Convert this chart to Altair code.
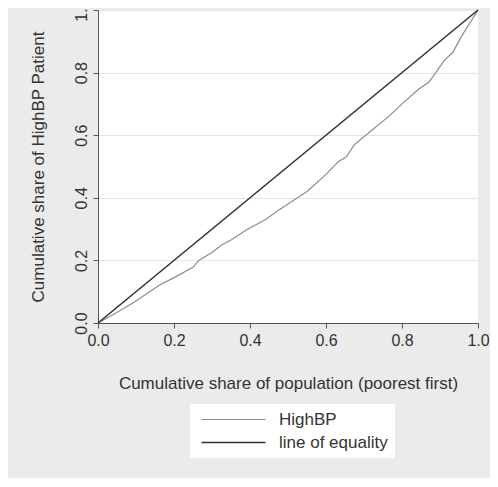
import altair as alt
import pandas as pd

# Cumulative share of population (poorest first) and of HighBP patients
share_pop = [0.0, 0.03, 0.075, 0.1, 0.16, 0.2, 0.25, 0.265, 0.3, 0.325, 0.35, 0.39,
             0.44, 0.475, 0.49, 0.55, 0.6, 0.632, 0.653, 0.675, 0.72, 0.765, 0.8,
             0.842, 0.871, 0.912, 0.934, 0.956, 1.0]
share_highbp = [0.0, 0.02, 0.052, 0.07, 0.12, 0.145, 0.178, 0.2, 0.225, 0.249, 0.265,
                0.297, 0.33, 0.36, 0.372, 0.42, 0.475, 0.515, 0.53, 0.57, 0.615, 0.66,
                0.7, 0.745, 0.77, 0.84, 0.865, 0.915, 1.0]
equality_x = [0.0, 1.0]
equality_y = [0.0, 1.0]
series_names = ["HighBP", "line of equality"]
series_colors = ["#8c8c8c", "#333333"]
tick_values = [0.0, 0.2, 0.4, 0.6, 0.8, 1.0]

rows = []
for xv, yv in zip(share_pop, share_highbp):
    rows.append({"x": xv, "y": yv, "series": series_names[0]})
for xv, yv in zip(equality_x, equality_y):
    rows.append({"x": xv, "y": yv, "series": series_names[1]})
df = pd.DataFrame(rows)

FONT = "Liberation Sans"

chart = alt.Chart(df).mark_line().encode(
    x=alt.X("x:Q",
            scale=alt.Scale(domain=[0, 1], nice=False, zero=False),
            axis=alt.Axis(values=tick_values, format=".1f",
                          title="Cumulative share of population (poorest first)",
                          grid=False, domainColor="#555555", tickColor="#555555",
                          tickSize=5, labelPadding=4, labelFontSize=16,
                          labelFlush=False,
                          labelColor="#333333", titleFontSize=17,
                          titleFontWeight="normal", titleColor="#333333",
                          titlePadding=27, labelFont=FONT, titleFont=FONT)),
    y=alt.Y("y:Q",
            scale=alt.Scale(domain=[0, 1], nice=False, zero=False),
            axis=alt.Axis(values=tick_values, format=".1f",
                          title="Cumulative share of HighBP Patient",
                          grid=True, gridColor="#e4e4e4", gridWidth=1,
                          domainColor="#555555", tickColor="#555555",
                          tickSize=5, labelPadding=4, labelAngle=270,
                          labelAlign="center", labelBaseline="bottom",
                          labelFlush=False,
                          labelFontSize=16, labelColor="#333333",
                          titleFontSize=17, titleFontWeight="normal",
                          titleColor="#333333", titlePadding=26,
                          labelFont=FONT, titleFont=FONT)),
    color=alt.Color("series:N",
                    scale=alt.Scale(domain=series_names, range=series_colors),
                    legend=alt.Legend(title=None, orient="none", legendX=92,
                                      legendY=394, fillColor="white",
                                      padding=7, symbolType="M-1,0H15",
                                      symbolSize=64, symbolStrokeWidth=1.3,
                                      labelFontSize=17, labelFont=FONT,
                                      labelColor="#333333", labelOffset=65,
                                      rowPadding=5)),
    strokeWidth=alt.StrokeWidth("series:N",
                                scale=alt.Scale(domain=series_names, range=[1.2, 1.6]),
                                legend=None),
).properties(
    width=380,
    height=313,
    autosize=alt.AutoSizeParams(type="none"),
    padding={"left": 90, "top": 2, "right": 12, "bottom": 155},
    background="#ebebeb",
).configure_view(
    stroke=None,
    fill="white",
)

chart.save("out.html", embed_options={"renderer": "svg", "actions": False})
